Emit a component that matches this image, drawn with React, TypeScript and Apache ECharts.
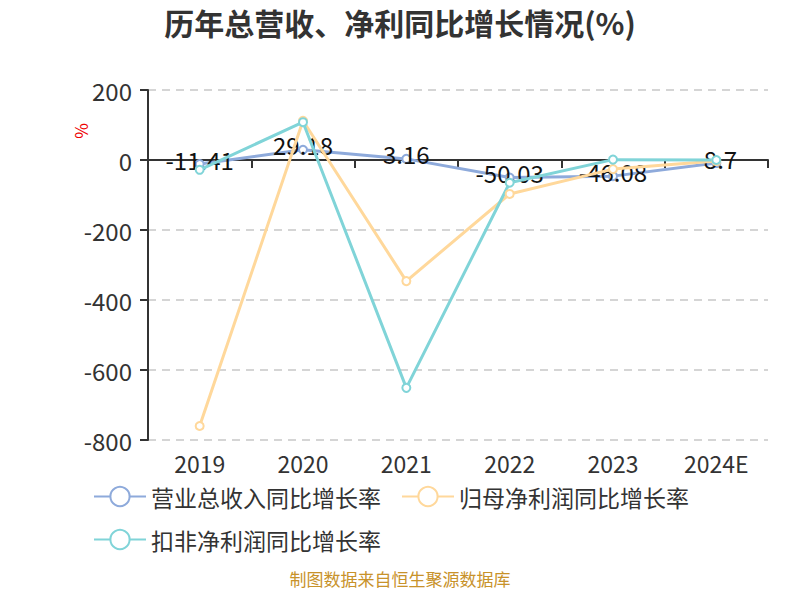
import { useEffect, useRef } from "react";
import * as echarts from "echarts";

const years = ["2019", "2020", "2021", "2022", "2023", "2024E"];
const revenueGrowth = [-11.41, 29.18, 3.16, -50.03, -46.08, -8.7];
const netProfitGrowth = [-760, 112, -346, -97, -26, -3];
const deductedProfitGrowth = [-28, 108, -651, -65, 1, 0];
const seriesNames = ["营业总收入同比增长率", "归母净利润同比增长率", "扣非净利润同比增长率"];
const colors = ["#8eaadb", "#ffd89b", "#80d4d8"];

const FONT = "'Noto Sans CJK SC', 'Noto Sans', sans-serif";

function buildOption(): echarts.EChartsOption {
  const mkSeries = (i: number, data: number[], withLabel: boolean): echarts.SeriesOption => ({
    name: seriesNames[i],
    type: "line",
    data,
    symbol: "emptyCircle",
    symbolSize: 8,
    lineStyle: { width: 3, color: colors[i] },
    itemStyle: { color: colors[i], borderWidth: 2 },
    z: withLabel ? 1 : 2,
    label: withLabel
      ? { show: true, position: "top", distance: -12, color: "#111", fontSize: 24, fontFamily: FONT }
      : { show: false },
  });

  return {
    animation: false,
    color: colors,
    textStyle: { fontFamily: FONT },
    title: {
      text: "历年总营收、净利同比增长情况(%)",
      left: "center",
      top: 2,
      textStyle: { fontSize: 30, fontWeight: "bold", color: "#333", fontFamily: FONT },
    },
    legend: {
      left: 88,
      top: 480,
      itemWidth: 52,
      itemHeight: 24,
      itemGap: 20,
      textStyle: { fontSize: 23, color: "#333", fontFamily: FONT },
      data: seriesNames,
    },
    grid: { left: 148, right: 32, top: 90, bottom: 160 },
    xAxis: [
      {
        type: "category",
        data: years,
        position: "bottom",
        axisLine: { show: false, onZero: false },
        axisTick: { show: false },
        axisLabel: { fontSize: 23, color: "#333", margin: 13, lineHeight: 20, fontFamily: FONT },
      },
      {
        type: "category",
        data: years,
        position: "bottom",
        axisLine: { show: true, onZero: true, lineStyle: { color: "#333", width: 2 } },
        axisTick: { show: true, length: 8, lineStyle: { color: "#333", width: 2 } },
        axisLabel: { show: false },
      },
    ],
    yAxis: {
      type: "value",
      min: -800,
      max: 200,
      interval: 200,
      axisLine: { show: true, lineStyle: { color: "#333", width: 2 } },
      axisTick: { show: true, length: 8, lineStyle: { color: "#333", width: 2 } },
      axisLabel: { fontSize: 24, color: "#333", margin: 16, fontFamily: FONT },
      splitLine: { lineStyle: { type: [8, 6], color: "#c8c8c8", width: 1.5 } },
    },
    graphic: [
      {
        type: "text",
        x: 80,
        y: 131,
        rotation: Math.PI / 2,
        style: {
          text: "%",
          fill: "#e00",
          fontSize: 17,
          fontFamily: FONT,
          align: "center",
          verticalAlign: "middle",
        },
      },
      {
        type: "text",
        left: "center",
        top: 570,
        style: {
          text: "制图数据来自恒生聚源数据库",
          fill: "#c8922a",
          fontSize: 17,
          fontFamily: FONT,
        },
      },
    ],
    series: [
      mkSeries(0, revenueGrowth, true),
      mkSeries(1, netProfitGrowth, false),
      mkSeries(2, deductedProfitGrowth, false),
    ],
  };
}

export default function App() {
  const ref = useRef<HTMLDivElement>(null);

  useEffect(() => {
    if (!ref.current) return;
    const chart = echarts.init(ref.current, undefined, { renderer: "svg" });
    chart.setOption(buildOption());
    return () => chart.dispose();
  }, []);

  return <div ref={ref} style={{ width: 800, height: 600, margin: -8 }} />;
}
